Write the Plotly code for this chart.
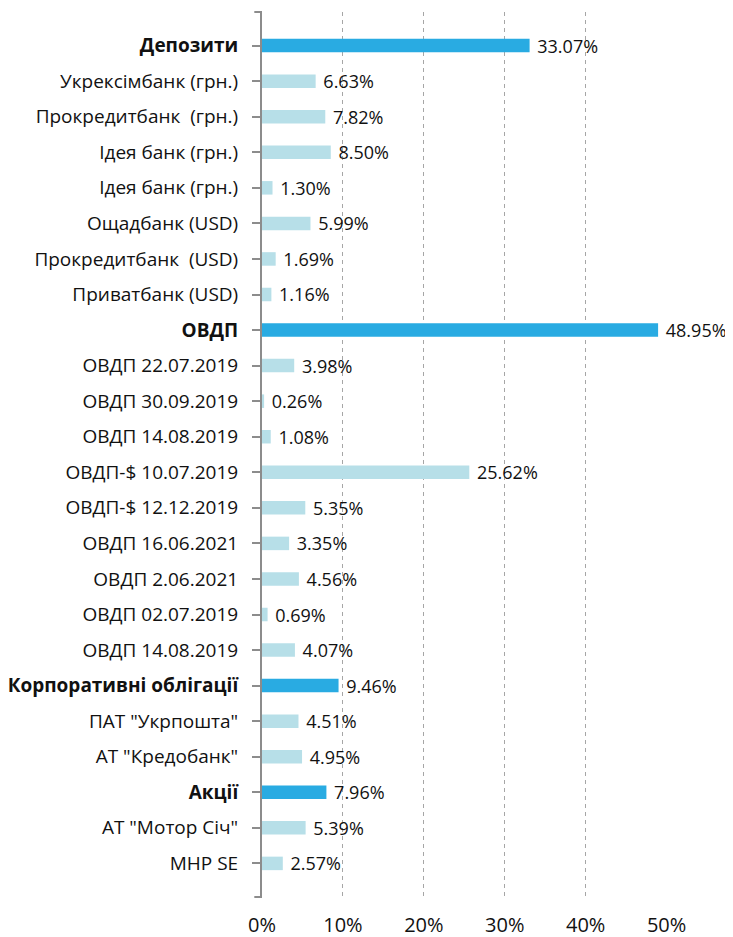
import plotly.graph_objects as go

labels = [
    "Депозити", "Укрексімбанк (грн.)", "Прокредитбанк  (грн.)", "Ідея банк (грн.)",
    "Ідея банк (грн.)", "Ощадбанк (USD)", "Прокредитбанк  (USD)", "Приватбанк (USD)",
    "ОВДП", "ОВДП 22.07.2019", "ОВДП 30.09.2019", "ОВДП 14.08.2019",
    "ОВДП-$ 10.07.2019", "ОВДП-$ 12.12.2019", "ОВДП 16.06.2021", "ОВДП 2.06.2021",
    "ОВДП 02.07.2019", "ОВДП 14.08.2019", "Корпоративні облігації",
    "ПАТ \"Укрпошта\"", "АТ \"Кредобанк\"", "Акції", "АТ \"Мотор Січ\"", "MHP SE",
]
values = [
    33.07, 6.63, 7.82, 8.50, 1.30, 5.99, 1.69, 1.16,
    48.95, 3.98, 0.26, 1.08, 25.62, 5.35, 3.35, 4.56, 0.69, 4.07,
    9.46, 4.51, 4.95, 7.96, 5.39, 2.57,
]
is_group = [
    True, False, False, False, False, False, False, False,
    True, False, False, False, False, False, False, False, False, False,
    True, False, False, True, False, False,
]
x_ticks = [0, 10, 20, 30, 40, 50]

DARK = "#29ABE2"
LIGHT = "#B7DFE8"
FONT = "Open Sans"
TXT = "#111111"

n = len(labels)
positions = list(range(n))
ticktext = [f"<b>{l}</b>" if g else l for l, g in zip(labels, is_group)]
colors = [DARK if g else LIGHT for g in is_group]
texts = [f" {v:.2f}%" for v in values]

fig = go.Figure(go.Bar(
    x=values, y=positions, orientation="h",
    marker=dict(color=colors, line=dict(width=0)),
    width=0.38,
    text=texts, textposition="outside", cliponaxis=False, constraintext="none",
    textfont=dict(family=FONT, size=18, color=TXT),
    hoverinfo="skip",
))

fig.update_layout(
    width=725, height=929,
    margin=dict(l=254, r=66, t=4, b=40),
    paper_bgcolor="white", plot_bgcolor="white",
    showlegend=False,
    font=dict(family=FONT, size=18, color=TXT),
    xaxis=dict(
        range=[0, 50.05], tickvals=x_ticks, ticktext=[f"{t}%" for t in x_ticks],
        showgrid=True, gridcolor="#a6a6a6", griddash="4px,4px", gridwidth=1,
        zeroline=False, showline=False, ticks="", automargin=False,
        tickfont=dict(family=FONT, size=20, color=TXT),
        ticklabelstandoff=14,
    ),
    yaxis=dict(
        range=[n - 1 + 0.945, -0.945], tickvals=positions, ticktext=ticktext,
        showgrid=False, zeroline=False, automargin=False,
        showline=True, linecolor="#8c8c8c", linewidth=2,
        ticks="outside", ticklen=8, tickcolor="#8c8c8c", tickwidth=2,
        tickfont=dict(family=FONT, size=19, color=TXT),
        ticklabelstandoff=10,
    ),
    shapes=[
        dict(type="line", xref="x domain", yref="y domain", x0=-0.019, x1=0, y0=0, y1=0,
             line=dict(color="#8c8c8c", width=2)),
        dict(type="line", xref="x domain", yref="y domain", x0=-0.019, x1=0, y0=1, y1=1,
             line=dict(color="#8c8c8c", width=2)),
    ],
)

fig.write_html("out.html")
